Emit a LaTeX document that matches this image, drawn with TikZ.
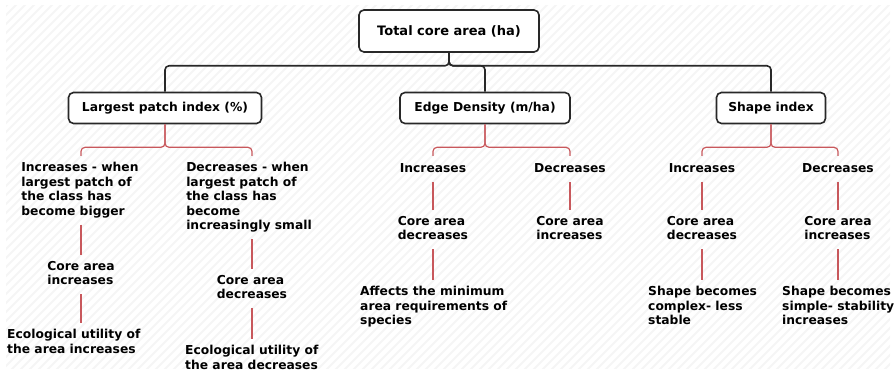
\documentclass[tikz,border=0pt]{standalone}
\usepackage{fontspec}
\setmainfont{DejaVu Sans}
\definecolor{tiered}{RGB}{200,88,92}
\definecolor{boxline}{RGB}{40,40,40}
\begin{document}
\begin{tikzpicture}[x=1pt,y=-1pt,font=\bfseries\fontsize{12.3}{14.5}\selectfont]
        \tikzstyle{metric}=[draw=boxline,line width=1.6pt,rounded corners=5pt,fill=white,minimum height=31pt,inner xsep=8pt]
        \tikzstyle{effect}=[inner sep=0pt,align=left,anchor=north,execute at begin node=\strut,execute at end node=\strut]
        \tikzstyle{tree}=[draw=boxline,line width=1.6pt,rounded corners=4pt]
        \tikzstyle{tie}=[draw=tiered,line width=1.2pt,rounded corners=4pt,shorten <=5pt,shorten >=6pt]
        \tikzstyle{hatch}=[draw=black!4,line width=2pt]
       \useasboundingbox (0,0) rectangle (896,374);
       % background hatching
       \begin{scope}
         \clip (6,6) rectangle (890,368);
         \foreach \i in {-380,-371,...,896}
           \draw[hatch] (\i,374) -- ++(374,-374);
       \end{scope}
       % boxes
       \node [metric,minimum width=180pt,minimum height=42pt,font=\bfseries\fontsize{13}{15}\selectfont] (root) at (449,31) {Total core area (ha)};
       \node [metric,minimum width=193pt] (lpi) at (165,108) {Largest patch index (\%)};
       \node [metric,minimum width=170pt] (ed) at (485,108) {Edge Density (m/ha)};
       \node [metric,minimum width=109pt] (si) at (771,108) {Shape index};
       % largest patch index
       \node [effect] (lpi1) at (80,162) {Increases - when\\largest patch of\\the class has\\become bigger};
       \node [effect] (lpi1a) at (81,261) {Core area\\increases};
       \node [effect,anchor=north west] (lpi1b) at (7,329) {Ecological utility of\\the area increases};
       \node [effect] (lpi2) at (249,162) {Decreases - when\\largest patch of\\the class has\\become\\increasingly small};
       \node [effect] (lpi2a) at (252,275) {Core area\\decreases};
       \node [effect,anchor=north west] (lpi2b) at (185,345) {Ecological utility of\\the area decreases};
       % edge density
       \node [effect] (ed1) at (433,162) {Increases};
       \node [effect] (ed1a) at (433,216) {Core area\\decreases};
       \node [effect,anchor=north west] (ed1b) at (360,286) {Affects the minimum\\area requirements of\\species};
       \node [effect] (ed2) at (570,162) {Decreases};
       \node [effect] (ed2a) at (570,216) {Core area\\increases};
       % shape index
       \node [effect] (si1) at (702,162) {Increases};
       \node [effect] (si1a) at (702,216) {Core area\\decreases};
       \node [effect,anchor=north west] (si1b) at (648,286) {Shape becomes\\complex- less\\stable};
       \node [effect] (si2) at (838,162) {Decreases};
       \node [effect] (si2a) at (838,216) {Core area\\increases};
       \node [effect,anchor=north west] (si2b) at (782,286) {Shape becomes\\simple- stability\\increases};
       % connectors
       \foreach \m in {lpi,ed,si}
         \path[tree] (root.south) -- ++(0,13) -| (\m.north);
       \path[tie,shorten <=0pt] (lpi.south) -- ++(0,23) -| (lpi1a.north |- lpi1.north);
       \path[tie,shorten <=0pt] (lpi.south) -- ++(0,23) -| (lpi2a.north |- lpi2.north);
       \foreach \m in {ed,si}
         \foreach \k in {1,2}
           \path[tie,shorten <=0pt] (\m.south) -- ++(0,23) -| (\m\k.north);
       \foreach \a/\b in {lpi1/lpi1a,lpi2/lpi2a,ed1/ed1a,ed2/ed2a,si1/si1a,si2/si2a}
         \path[tie] (\b.north |- \a.south) -- (\b.north);
       \foreach \a/\b in {lpi1a/lpi1b,lpi2a/lpi2b,ed1a/ed1b,si1a/si1b,si2a/si2b}
         \path[tie] (\a.south) -- (\a.south |- \b.north);
      \end{tikzpicture}
\end{document}
